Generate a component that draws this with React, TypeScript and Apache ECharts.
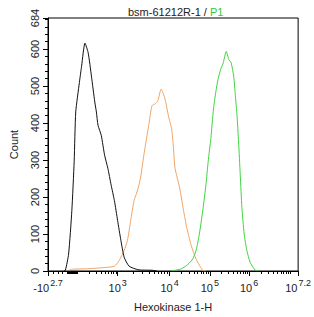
import React, { useEffect, useRef } from "react";
import * as echarts from "echarts";

// Histogram traces: fluorescence intensity and event count per point.
const controlIntensity = [-180, -146, -80, -14, 34, 66, 112, 127, 154, 185, 223, 270, 296, 325, 391, 474, 570, 687, 831, 1000, 1154, 1338, 1663, 2567, 4575, 5684];
const controlCount = [0, 2, 46, 163, 297, 430, 510, 554, 616, 590, 527, 457, 430, 394, 367, 313, 278, 233, 190, 136, 83, 37, 13, 3, 2, 0];

const isotypeIntensity = [-60, 20, 166, 431, 831, 1077, 1338, 1544, 1782, 2066, 2385, 2752, 3190, 3681, 3964, 4575, 5281, 5936, 6852, 8153, 9452, 10170, 11190, 12310, 13620, 17830, 21590, 25980, 34400, 45560, 58000, 67500, 79900];
const isotypeCount = [3, 5, 6, 9, 13, 29, 56, 83, 136, 190, 216, 251, 313, 367, 394, 447, 452, 460, 492, 465, 420, 403, 385, 340, 278, 224, 171, 123, 69, 32, 11, 1, 0];

const sampleIntensity = [11190, 19630, 28580, 37840, 45560, 54830, 66370, 79890, 90900, 105900, 123700, 141300, 161300, 188400, 220000, 261500, 303800, 348700, 405200, 446700, 492600, 540200, 595700, 656900, 749900, 875000, 1057000, 1393000, 1672000];
const sampleCount = [0, 6, 18, 33, 56, 100, 162, 233, 296, 358, 438, 483, 518, 545, 563, 594, 572, 563, 527, 474, 420, 349, 260, 171, 100, 56, 24, 3, 0];

// Major x ticks and their labels (base and exponent).
const xMajorValues = [-Math.pow(10, 2.7), 1e3, 1e4, 1e5, 1e6, Math.pow(10, 7.2)];
const xMajorBase = ["-10", "10", "10", "10", "10", "10"];
const xMajorExp = ["2.7", "3", "4", "5", "6", "7.2"];

const yMajorValues = [0, 100, 200, 300, 400, 500, 600, 684];
const Y_MAX = 684;

// Logicle-style display: linear around zero, logarithmic above 100.
const LINEAR_ZERO = 25;
const LINEAR_SLOPE = LINEAR_ZERO / Math.pow(10, 2.7);
const LOG_ANCHORS: [number, number][] = [
  [100, 30],
  [1e3, 71],
  [1e4, 124],
  [1e5, 165],
  [1e6, 205],
  [Math.pow(10, 7.2), 255],
];
const CHANNEL_MAX = 255;

function toChannel(v: number): number {
  if (v <= LOG_ANCHORS[0][0]) return Math.max(0, LINEAR_ZERO + v * LINEAR_SLOPE);
  const lv = Math.log10(v);
  for (let i = 0; i < LOG_ANCHORS.length - 1; i++) {
    const [v0, c0] = LOG_ANCHORS[i];
    const [v1, c1] = LOG_ANCHORS[i + 1];
    if (v <= v1 * 1.0001 || i === LOG_ANCHORS.length - 2) {
      const l0 = Math.log10(v0);
      const l1 = Math.log10(v1);
      return Math.min(CHANNEL_MAX, c0 + ((lv - l0) / (l1 - l0)) * (c1 - c0));
    }
  }
  return CHANNEL_MAX;
}

function minorXValues(): number[] {
  const out: number[] = [];
  for (let v = -400; v <= -100; v += 100) out.push(v);
  for (let v = -90; v <= 90; v += 10) out.push(v);
  for (let v = 100; v <= 900; v += 100) out.push(v);
  for (let d = 1e3; d <= 1e6; d *= 10) {
    for (let k = 2; k <= 9; k++) out.push(k * d);
  }
  out.push(1e7);
  return out;
}

function minorYValues(): number[] {
  const out: number[] = [];
  for (let v = 20; v <= 680; v += 20) if (v % 100 !== 0) out.push(v);
  return out;
}

const FONT = "'Liberation Sans', Arial, sans-serif";
const TEXT = "#222";

function series(name: string, xs: number[], ys: number[], color: string) {
  return {
    name,
    type: "line" as const,
    xAxisIndex: 0,
    yAxisIndex: 0,
    showSymbol: false,
    smooth: 0.2,
    lineStyle: { color, width: 1 },
    data: xs.map((x, i) => [toChannel(x), ys[i]]),
  };
}

export default function App() {
  const ref = useRef<HTMLDivElement>(null);

  useEffect(() => {
    if (!ref.current) return;
    const chart = echarts.init(ref.current, undefined, { renderer: "svg" });
    const majorChannels = xMajorValues.map(toChannel);

    chart.setOption({
      animation: false,
      backgroundColor: "#fff",
      textStyle: { fontFamily: FONT },
      title: {
        text: "{a|bsm-61212R-1 / }{b|P1}",
        left: 123,
        top: 1,
        textStyle: {
          fontWeight: "normal",
          rich: {
            a: { fontSize: 11, color: TEXT, fontFamily: FONT, fontWeight: "normal" },
            b: { fontSize: 11, color: "#33cc33", fontFamily: FONT, fontWeight: "normal" },
          },
        },
      },
      grid: {
        left: 44,
        right: 14,
        top: 18,
        bottom: 43,
        show: true,
        borderColor: "#000",
        borderWidth: 1,
      },
      xAxis: [
        {
          type: "value",
          min: 0,
          max: CHANNEL_MAX,
          name: "Hexokinase 1-H",
          nameLocation: "middle",
          nameGap: 30,
          nameTextStyle: { fontSize: 11, color: TEXT, fontFamily: FONT },
          axisLine: { show: true, lineStyle: { color: "#000", width: 1 } },
          axisTick: { show: true, length: 5, customValues: majorChannels, lineStyle: { color: "#000" } },
          axisLabel: {
            show: true,
            customValues: majorChannels,
            margin: 8,
            showMinLabel: true,
            showMaxLabel: true,
            hideOverlap: false,
            formatter: (val: number) => {
              let best = 0;
              for (let i = 1; i < majorChannels.length; i++) {
                if (Math.abs(majorChannels[i] - val) < Math.abs(majorChannels[best] - val)) best = i;
              }
              return `{b|${xMajorBase[best]}}{s|${xMajorExp[best]}}`;
            },
            rich: {
              b: { fontSize: 11, color: TEXT, fontFamily: FONT, lineHeight: 14, verticalAlign: "bottom" },
              s: { fontSize: 9, color: TEXT, fontFamily: FONT, lineHeight: 14, verticalAlign: "bottom", padding: [0, 0, 6, 1] },
            },
          },
          splitLine: { show: false },
        },
        {
          type: "value",
          min: 0,
          max: CHANNEL_MAX,
          position: "bottom",
          axisLine: { show: false },
          axisTick: { show: true, length: 3, customValues: minorXValues().map(toChannel), lineStyle: { color: "#000" } },
          axisLabel: { show: false },
          splitLine: { show: false },
        },
      ],
      yAxis: [
        {
          type: "value",
          min: 0,
          max: Y_MAX,
          name: "Count",
          nameLocation: "middle",
          nameGap: 29,
          nameTextStyle: { fontSize: 11, color: TEXT, fontFamily: FONT },
          axisLine: { show: true, lineStyle: { color: "#000", width: 1 } },
          axisTick: { show: true, length: 5, customValues: yMajorValues, lineStyle: { color: "#000" } },
          axisLabel: {
            show: true,
            customValues: yMajorValues,
            rotate: 90,
            margin: 8,
            fontSize: 11,
            color: TEXT,
            fontFamily: FONT,
            showMinLabel: true,
            showMaxLabel: true,
          },
          splitLine: { show: false },
        },
        {
          type: "value",
          min: 0,
          max: Y_MAX,
          position: "left",
          axisLine: { show: false },
          axisTick: { show: true, length: 3, customValues: minorYValues(), lineStyle: { color: "#000" } },
          axisLabel: { show: false },
          splitLine: { show: false },
        },
      ],
      series: [
        series("Isotype", isotypeIntensity, isotypeCount, "#f0a464"),
        series("Control", controlIntensity, controlCount, "#111"),
        series("P1", sampleIntensity, sampleCount, "#3fd43f"),
      ],
    });

    return () => chart.dispose();
  }, []);

  return <div ref={ref} style={{ width: 314, height: 317, position: "absolute", left: 0, top: 0 }} />;
}
